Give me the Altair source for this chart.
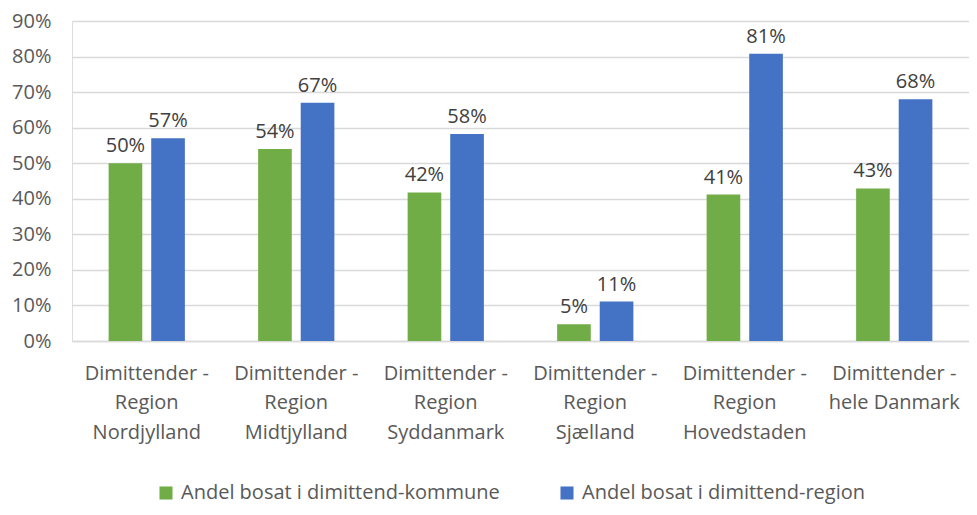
import altair as alt
import pandas as pd

categories = [
    "Dimittender -|Region|Nordjylland",
    "Dimittender -|Region|Midtjylland",
    "Dimittender -|Region|Syddanmark",
    "Dimittender -|Region|Sjælland",
    "Dimittender -|Region|Hovedstaden",
    "Dimittender -|hele Danmark",
]
series = ["Andel bosat i dimittend-kommune", "Andel bosat i dimittend-region"]
kommune = [0.50, 0.54, 0.418, 0.047, 0.412, 0.429]
region = [0.57, 0.67, 0.582, 0.111, 0.808, 0.68]
colors = ["#70AD47", "#4472C4"]
y_ticks = [0, 0.1, 0.2, 0.3, 0.4, 0.5, 0.6, 0.7, 0.8, 0.9]

rows = []
for c, k, r in zip(categories, kommune, region):
    rows.append({"cat": c, "serie": series[0], "val": k})
    rows.append({"cat": c, "serie": series[1], "val": r})
df = pd.DataFrame(rows)

FONT = "Open Sans"
FS = 20

x = alt.X(
    "cat:N",
    sort=categories,
    title=None,
    scale=alt.Scale(paddingInner=0.49, paddingOuter=0.245),
    axis=alt.Axis(
        labelExpr="split(datum.label, '|')",
        labelAngle=0,
        labelFont=FONT,
        labelFontSize=FS,
        labelColor="#595959",
        labelLineHeight=29.5,
        labelPadding=22,
        labelBaseline="top",
        ticks=False,
        domainColor="#D9D9D9",
        domainWidth=1.5,
        grid=False,
    ),
)
xo = alt.XOffset("serie:N", sort=series, scale=alt.Scale(paddingInner=0.21, paddingOuter=0))
y = alt.Y(
    "val:Q",
    title=None,
    scale=alt.Scale(domain=[0, 0.9], nice=False),
    axis=alt.Axis(
        values=y_ticks,
        format=".0%",
        labelFont=FONT,
        labelFontSize=FS,
        labelColor="#595959",
        labelPadding=21,
        labelOverlap=False,
        ticks=False,
        domain=False,
        gridColor="#D9D9D9",
        gridWidth=1.5,
    ),
)

bars = alt.Chart(df).mark_bar().encode(
    x=x,
    xOffset=xo,
    y=y,
    color=alt.Color(
        "serie:N",
        sort=series,
        scale=alt.Scale(domain=series, range=colors),
        legend=alt.Legend(
            title=None,
            orient="none",
            direction="horizontal",
            legendX=84,
            legendY=462,
            symbolType="square",
            symbolSize=170,
            symbolStrokeWidth=0,
            labelFont=FONT,
            labelFontSize=FS,
            labelColor="#595959",
            labelLimit=400,
            columnPadding=57,
            labelOffset=5,
        ),
    ),
)

labels = alt.Chart(df).mark_text(
    baseline="bottom", dy=-7, font=FONT, fontSize=FS, color="#404040"
).encode(
    x=x,
    xOffset=xo,
    y=y,
    text=alt.Text("val:Q", format=".0%"),
)

chart = (
    alt.layer(bars, labels)
    .properties(
        width=897,
        height=320,
        autosize=alt.AutoSizeParams(type="none"),
        padding={"left": 64, "top": 13, "right": 0, "bottom": 166},
    )
    .configure_view(stroke=None)
    .configure(background="white")
)

chart.save("out.html", embed_options={"renderer": "svg", "actions": False})
